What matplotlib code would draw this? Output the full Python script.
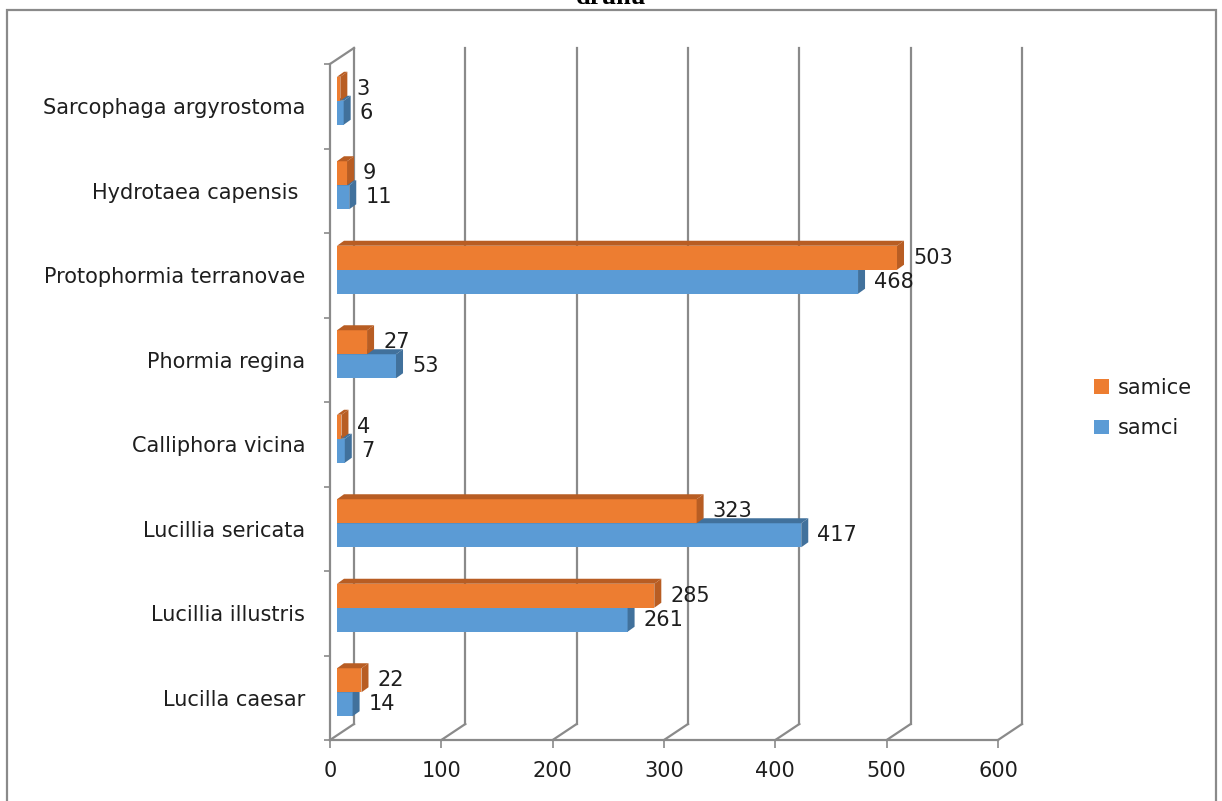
import matplotlib
matplotlib.use("Agg")
from matplotlib import pyplot as plt
from matplotlib.patches import Polygon, Patch, Rectangle

plt.rcParams['font.family'] = ['DejaVu Sans']

species = ["Lucilla caesar", "Lucillia illustris", "Lucillia sericata",
           "Calliphora vicina", "Phormia regina", "Protophormia terranovae",
           "Hydrotaea capensis ", "Sarcophaga argyrostoma"]
samci = [14, 261, 417, 7, 53, 468, 11, 6]
samice = [22, 285, 323, 4, 27, 503, 9, 3]
x_ticks = [0, 100, 200, 300, 400, 500, 600]

BLUE, BLUE_DARK = "#5b9bd5", "#41719c"
ORANGE, ORANGE_DARK = "#ed7d31", "#b85d23"
GRID = "#8a8a8a"
TEXT = "#1e1e1e"

fig = plt.figure(figsize=(12.22, 8.01), dpi=100)
ax = fig.add_axes([330 / 1222, 1 - 740 / 801, 668 / 1222, 676 / 801])
ax.set_xlim(0, 600)
ax.set_ylim(0, 8)

# pixel sizes of the pseudo-3d depth, converted to data units
px_x = 600 / 668
px_y = 8 / 676
wall_dx, wall_dy = 24 * px_x, 16 * px_y
bar_dx, bar_dy = 7 * px_x, 5.5 * px_y
depth_dx, depth_dy = 7 * px_x, 5 * px_y
bar_h = 24 * px_y

# floor and back wall
for t in x_ticks:
    ax.plot([t, t + wall_dx], [0, wall_dy], color=GRID, lw=1.6, clip_on=False, zorder=1)
    ax.plot([t + wall_dx, t + wall_dx], [wall_dy, 8 + wall_dy], color=GRID, lw=1.6,
            clip_on=False, zorder=1)
ax.plot([0, wall_dx], [8, 8 + wall_dy], color=GRID, lw=1.6, clip_on=False, zorder=1)


def draw_bar(v, y0, face, dark):
    x0 = bar_dx
    ax.barh(y0, v, height=bar_h, left=x0, align='edge', color=face, lw=0, zorder=3)
    top = y0 + bar_h
    ax.add_patch(Polygon([(x0, top), (x0 + v, top), (x0 + v + depth_dx, top + depth_dy),
                          (x0 + depth_dx, top + depth_dy)], closed=True,
                         facecolor=dark, lw=0, zorder=3))
    ax.add_patch(Polygon([(x0 + v, y0), (x0 + v, top), (x0 + v + depth_dx, top + depth_dy),
                          (x0 + v + depth_dx, y0 + depth_dy)], closed=True,
                         facecolor=dark, lw=0, zorder=3))
    ax.annotate(str(v), (x0 + v + depth_dx, y0 + bar_h / 2), xytext=(6.5, 0),
                textcoords='offset points', va='center', ha='left', fontsize=15,
                color=TEXT, zorder=4)


for i, (m, f) in enumerate(zip(samci, samice)):
    base = i + 0.5 + bar_dy
    draw_bar(m, base - bar_h, BLUE, BLUE_DARK)
    draw_bar(f, base, ORANGE, ORANGE_DARK)

for side in ['top', 'right']:
    ax.spines[side].set_visible(False)
for side in ['left', 'bottom']:
    ax.spines[side].set_color(GRID)
    ax.spines[side].set_linewidth(1.6)

ax.set_xticks(x_ticks)
ax.set_xticklabels([str(t) for t in x_ticks])
ax.tick_params(axis='x', length=6, width=1.2, color=GRID, labelsize=15, pad=9,
               labelcolor=TEXT)
ax.set_yticks(range(9))
ax.set_yticklabels([])
ax.set_yticks([i + 0.5 for i in range(len(species))], minor=True)
ax.set_yticklabels(species, minor=True)
ax.tick_params(axis='y', which='major', length=4, width=1.2, color=GRID)
ax.tick_params(axis='y', which='minor', length=0, labelsize=15, pad=18,
               labelcolor=TEXT)

fig.legend(handles=[Patch(facecolor=ORANGE), Patch(facecolor=BLUE)],
           labels=["samice", "samci"], loc='center left',
           bbox_to_anchor=(1094 / 1222, 1 - 408 / 801), frameon=False,
           fontsize=15, handlelength=0.7, handleheight=0.7, handletextpad=0.45,
           labelspacing=1.0, borderpad=0, borderaxespad=0, labelcolor=TEXT)

# outer chart border
fig.add_artist(Rectangle((7 / 1222, -0.02), 1209 / 1222, 1.02 - 10 / 801,
                         transform=fig.transFigure, fill=False, edgecolor=GRID, lw=1.6))
fig.text(0.5, 1 - 4 / 801, "druhů", ha='center', va='baseline', fontsize=19,
         fontweight='bold', family='Liberation Serif')

fig.savefig("out.png", dpi=100)
